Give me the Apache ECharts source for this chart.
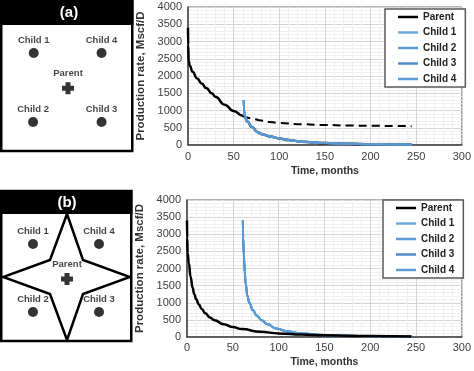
<!DOCTYPE html>
<html><head><meta charset="utf-8">
<script src="https://cdn.jsdelivr.net/npm/echarts@6/dist/echarts.min.js"></script>
<style>html,body{margin:0;padding:0;background:#fff}#c{width:474px;height:371px}</style>
</head><body><div id="c"></div>
<script>
// ---------- data ----------
const seriesNames = ['Parent', 'Child 1', 'Child 2', 'Child 3', 'Child 4'];
const xTicks = [0, 50, 100, 150, 200, 250, 300];
const yTicks = [0, 500, 1000, 1500, 2000, 2500, 3000, 3500, 4000];

// Panel (a): parent with child wells drilled at ~60 months
const timeA_parent = [0, 0.2, 0.7, 2, 5, 10, 15, 20, 26, 30, 40, 50, 60, 62, 65, 70, 76, 80, 90, 100, 110, 125, 150, 175, 200, 245];
const rateA_parent = [3400, 2900, 2450, 2300, 2120, 1930, 1780, 1650, 1500, 1400, 1170, 985, 850, 830, 680, 520, 380, 320, 250, 190, 145, 95, 55, 38, 25, 12];
const timeA_parentNoChild = [60, 70, 80, 90, 100, 125, 150, 175, 200, 245];
const rateA_parentNoChild = [850, 770, 710, 665, 635, 600, 580, 565, 555, 545];
const timeA_child = [61, 61.5, 62, 65, 70, 76, 80, 90, 100, 110, 125, 150, 175, 200, 245];
const rateA_child = [1300, 1000, 860, 680, 520, 380, 320, 250, 190, 145, 95, 55, 38, 25, 12];

// Panel (b)
const timeB_parent = [0, 0.2, 0.7, 2, 4, 6, 8, 10, 13, 16, 20, 25, 30, 40, 50, 60, 80, 100, 125, 150, 200, 245];
const rateB_parent = [3400, 2900, 2450, 2150, 1750, 1450, 1250, 1100, 950, 820, 690, 570, 490, 370, 290, 230, 150, 105, 70, 50, 28, 18];
const timeB_child = [61, 61.3, 62, 63, 64, 66, 68, 72, 76, 81, 88, 97, 110, 125, 150, 175, 200, 245];
const rateB_child = [3400, 2900, 2400, 1900, 1550, 1200, 1000, 780, 630, 500, 370, 250, 160, 100, 55, 35, 25, 15];

// Well layout schematics (unit square of the map box)
const wellNames = ['Child 1', 'Child 2', 'Child 3', 'Child 4'];
const wellA_x = [0.24, 0.235, 0.77, 0.77];
const wellA_y = [0.226, 0.782, 0.782, 0.226];
const parentA = [0.508, 0.51];
const wellB_x = [0.236, 0.236, 0.756, 0.756];
const wellB_y = [0.238, 0.778, 0.778, 0.238];
const parentB = [0.504, 0.516];
const starX = [0.504, 0.63, 1.0, 0.63, 0.504, 0.37, 0.0, 0.37, 0.504];
const starY = [0.0, 0.365, 0.5, 0.635, 1.0, 0.635, 0.5, 0.365, 0.0];

// ---------- build ----------
const childColors = ['#6fa8dc', '#5b9bd5', '#4f8cc9', '#5a9ad6'];
const pairs = (t, v) => t.map((x, i) => [x, v[i]]);
const FONT = "'Liberation Sans', Arial, sans-serif";

function xAxisFor(grid, gap, margin) {
  return {
    type: 'value', gridIndex: grid, min: xTicks[0], max: xTicks[xTicks.length - 1], interval: 50,
    name: 'Time, months', nameLocation: 'middle', nameGap: gap,
    nameTextStyle: { fontFamily: FONT, fontWeight: 'bold', fontSize: 10.5, color: '#333' },
    axisLine: { lineStyle: { color: '#404040', width: 1.5 } },
    axisTick: { show: false },
    axisLabel: { fontFamily: FONT, fontSize: 11, color: '#404040', margin: margin, formatter: v => String(v) },
    splitLine: { lineStyle: { color: '#d4d4d4', width: 1 } },
    minorSplitLine: { show: true, lineStyle: { color: '#efefef', width: 1 } },
    minorTick: { show: false, splitNumber: 5 }
  };
}
function yAxisFor(grid) {
  return {
    type: 'value', gridIndex: grid, min: yTicks[0], max: yTicks[yTicks.length - 1], interval: 500,
    name: 'Production rate, Mscf/D', nameLocation: 'middle', nameGap: 32,
    nameTextStyle: { fontFamily: FONT, fontWeight: 'bold', fontSize: 11.5, color: '#333' },
    axisLine: { show: true, lineStyle: { color: '#404040', width: 1.5 } },
    axisTick: { show: false },
    axisLabel: { fontFamily: FONT, fontSize: 11, color: '#404040', margin: 6, formatter: v => String(v) },
    splitLine: { lineStyle: { color: '#d4d4d4', width: 1 } },
    minorSplitLine: { show: true, lineStyle: { color: '#efefef', width: 1 } },
    minorTick: { show: false, splitNumber: 5 }
  };
}
function hiddenAxis(grid, inverse) {
  return { type: 'value', gridIndex: grid, min: 0, max: 1, show: false, inverse: !!inverse };
}
function legendFor(top, left) {
  return {
    data: seriesNames, orient: 'vertical', top: top, left: left,
    icon: 'rect', itemWidth: 20, itemHeight: 2.5, itemGap: 2.5,
    padding: [1.5, 9, 1.5, 13],
    backgroundColor: '#fff', borderColor: '#595959', borderWidth: 1.5, borderRadius: 0,
    selectedMode: false,
    textStyle: { fontFamily: FONT, fontWeight: 'bold', fontSize: 10, color: '#222', lineHeight: 13 }
  };
}
function lineSeries(name, xi, data, color, width, dashed) {
  return {
    type: 'line', name: name, xAxisIndex: xi, yAxisIndex: xi, data: data,
    showSymbol: false, symbol: 'none', smooth: 0.5, smoothMonotone: 'x',
    lineStyle: { color: color, width: width, type: dashed ? [8, 5] : 'solid' },
    itemStyle: { color: color }, silent: true, animation: false
  };
}
function wellSeries(grid, xs, ys, parent) {
  const wells = wellNames.map((n, i) => ({ name: n, value: [xs[i], ys[i]] }));
  const labelStyle = { show: true, position: 'top', distance: 3, formatter: '{b}',
    fontFamily: FONT, fontWeight: 'bold', fontSize: 9.5, color: '#111' };
  return [
    { type: 'scatter', xAxisIndex: grid, yAxisIndex: grid, data: wells, symbol: 'circle', symbolSize: 10,
      itemStyle: { color: '#000' }, label: labelStyle, silent: true, animation: false, z: 5 },
    { type: 'scatter', xAxisIndex: grid, yAxisIndex: grid, data: [{ name: 'Parent', value: parent }],
      symbol: 'path://M3.5,0H8.5V3.5H12V8.5H8.5V12H3.5V8.5H0V3.5H3.5Z', symbolSize: 12,
      itemStyle: { color: '#000' }, label: Object.assign({}, labelStyle, { distance: 4 }),
      silent: true, animation: false, z: 5 }
  ];
}

const series = [];
// panel (a)
series.push(lineSeries('Parent', 0, pairs(timeA_parent, rateA_parent), '#000', 2.5));
series.push(lineSeries('Parent (no child)', 0, pairs(timeA_parentNoChild, rateA_parentNoChild), '#000', 2, true));
for (let i = 0; i < 4; i++) series.push(lineSeries(seriesNames[i + 1], 0, pairs(timeA_child, rateA_child), childColors[i], 2));
// panel (b)
for (let i = 0; i < 4; i++) series.push(lineSeries(seriesNames[i + 1], 1, pairs(timeB_child, rateB_child), childColors[i], 2));
series.push(lineSeries('Parent', 1, pairs(timeB_parent, rateB_parent), '#000', 2.5));
// schematics
series.push(...wellSeries(2, wellA_x, wellA_y, parentA));
series.push(...wellSeries(3, wellB_x, wellB_y, parentB));
series.push({ type: 'line', xAxisIndex: 3, yAxisIndex: 3, data: pairs(starX, starY), symbol: 'none', showSymbol: false,
  lineStyle: { color: '#000', width: 2.5, join: 'miter' }, silent: true, animation: false, z: 4 });

const option = {
  animation: false,
  backgroundColor: '#fff',
  grid: [
    { left: 188, top: 7, width: 277, height: 138, show: true, borderColor: '#666', borderWidth: 1, backgroundColor: '#fff' },
    { left: 187, top: 200, width: 278, height: 137, show: true, borderColor: '#666', borderWidth: 1, backgroundColor: '#fff' },
    { left: 3, top: 25, width: 128, height: 124 },
    { left: 3, top: 214, width: 127, height: 126 }
  ],
  xAxis: [xAxisFor(0, 21, 6), xAxisFor(1, 20, 5), hiddenAxis(2), hiddenAxis(3)],
  yAxis: [yAxisFor(0), yAxisFor(1), hiddenAxis(2, true), hiddenAxis(3, true)],
  legend: [legendFor(9, 385), legendFor(200, 383)],
  graphic: [
    { type: 'rect', z: 0, shape: { x: 1.25, y: 1, width: 131, height: 150 }, style: { fill: '#fff', stroke: '#000', lineWidth: 2.5 } },
    { type: 'rect', z: 0, shape: { x: 0, y: 0, width: 133.5, height: 25 }, style: { fill: '#000' } },
    { type: 'text', z: 1, x: 69, y: 13, style: { text: '(a)', fill: '#fff', font: "bold 15px 'Liberation Sans', Arial", align: 'center', verticalAlign: 'middle' } },
    { type: 'rect', z: 0, shape: { x: 1.25, y: 191, width: 130, height: 150 }, style: { fill: '#fff', stroke: '#000', lineWidth: 2.5 } },
    { type: 'rect', z: 0, shape: { x: 0, y: 190, width: 132.5, height: 24 }, style: { fill: '#000' } },
    { type: 'text', z: 1, x: 67, y: 203, style: { text: '(b)', fill: '#fff', font: "bold 15px 'Liberation Sans', Arial", align: 'center', verticalAlign: 'middle' } }
  ],
  series: series
};
const chart = echarts.init(document.getElementById('c'), null, { renderer: 'canvas' });
chart.setOption(option);
</script></body></html>
